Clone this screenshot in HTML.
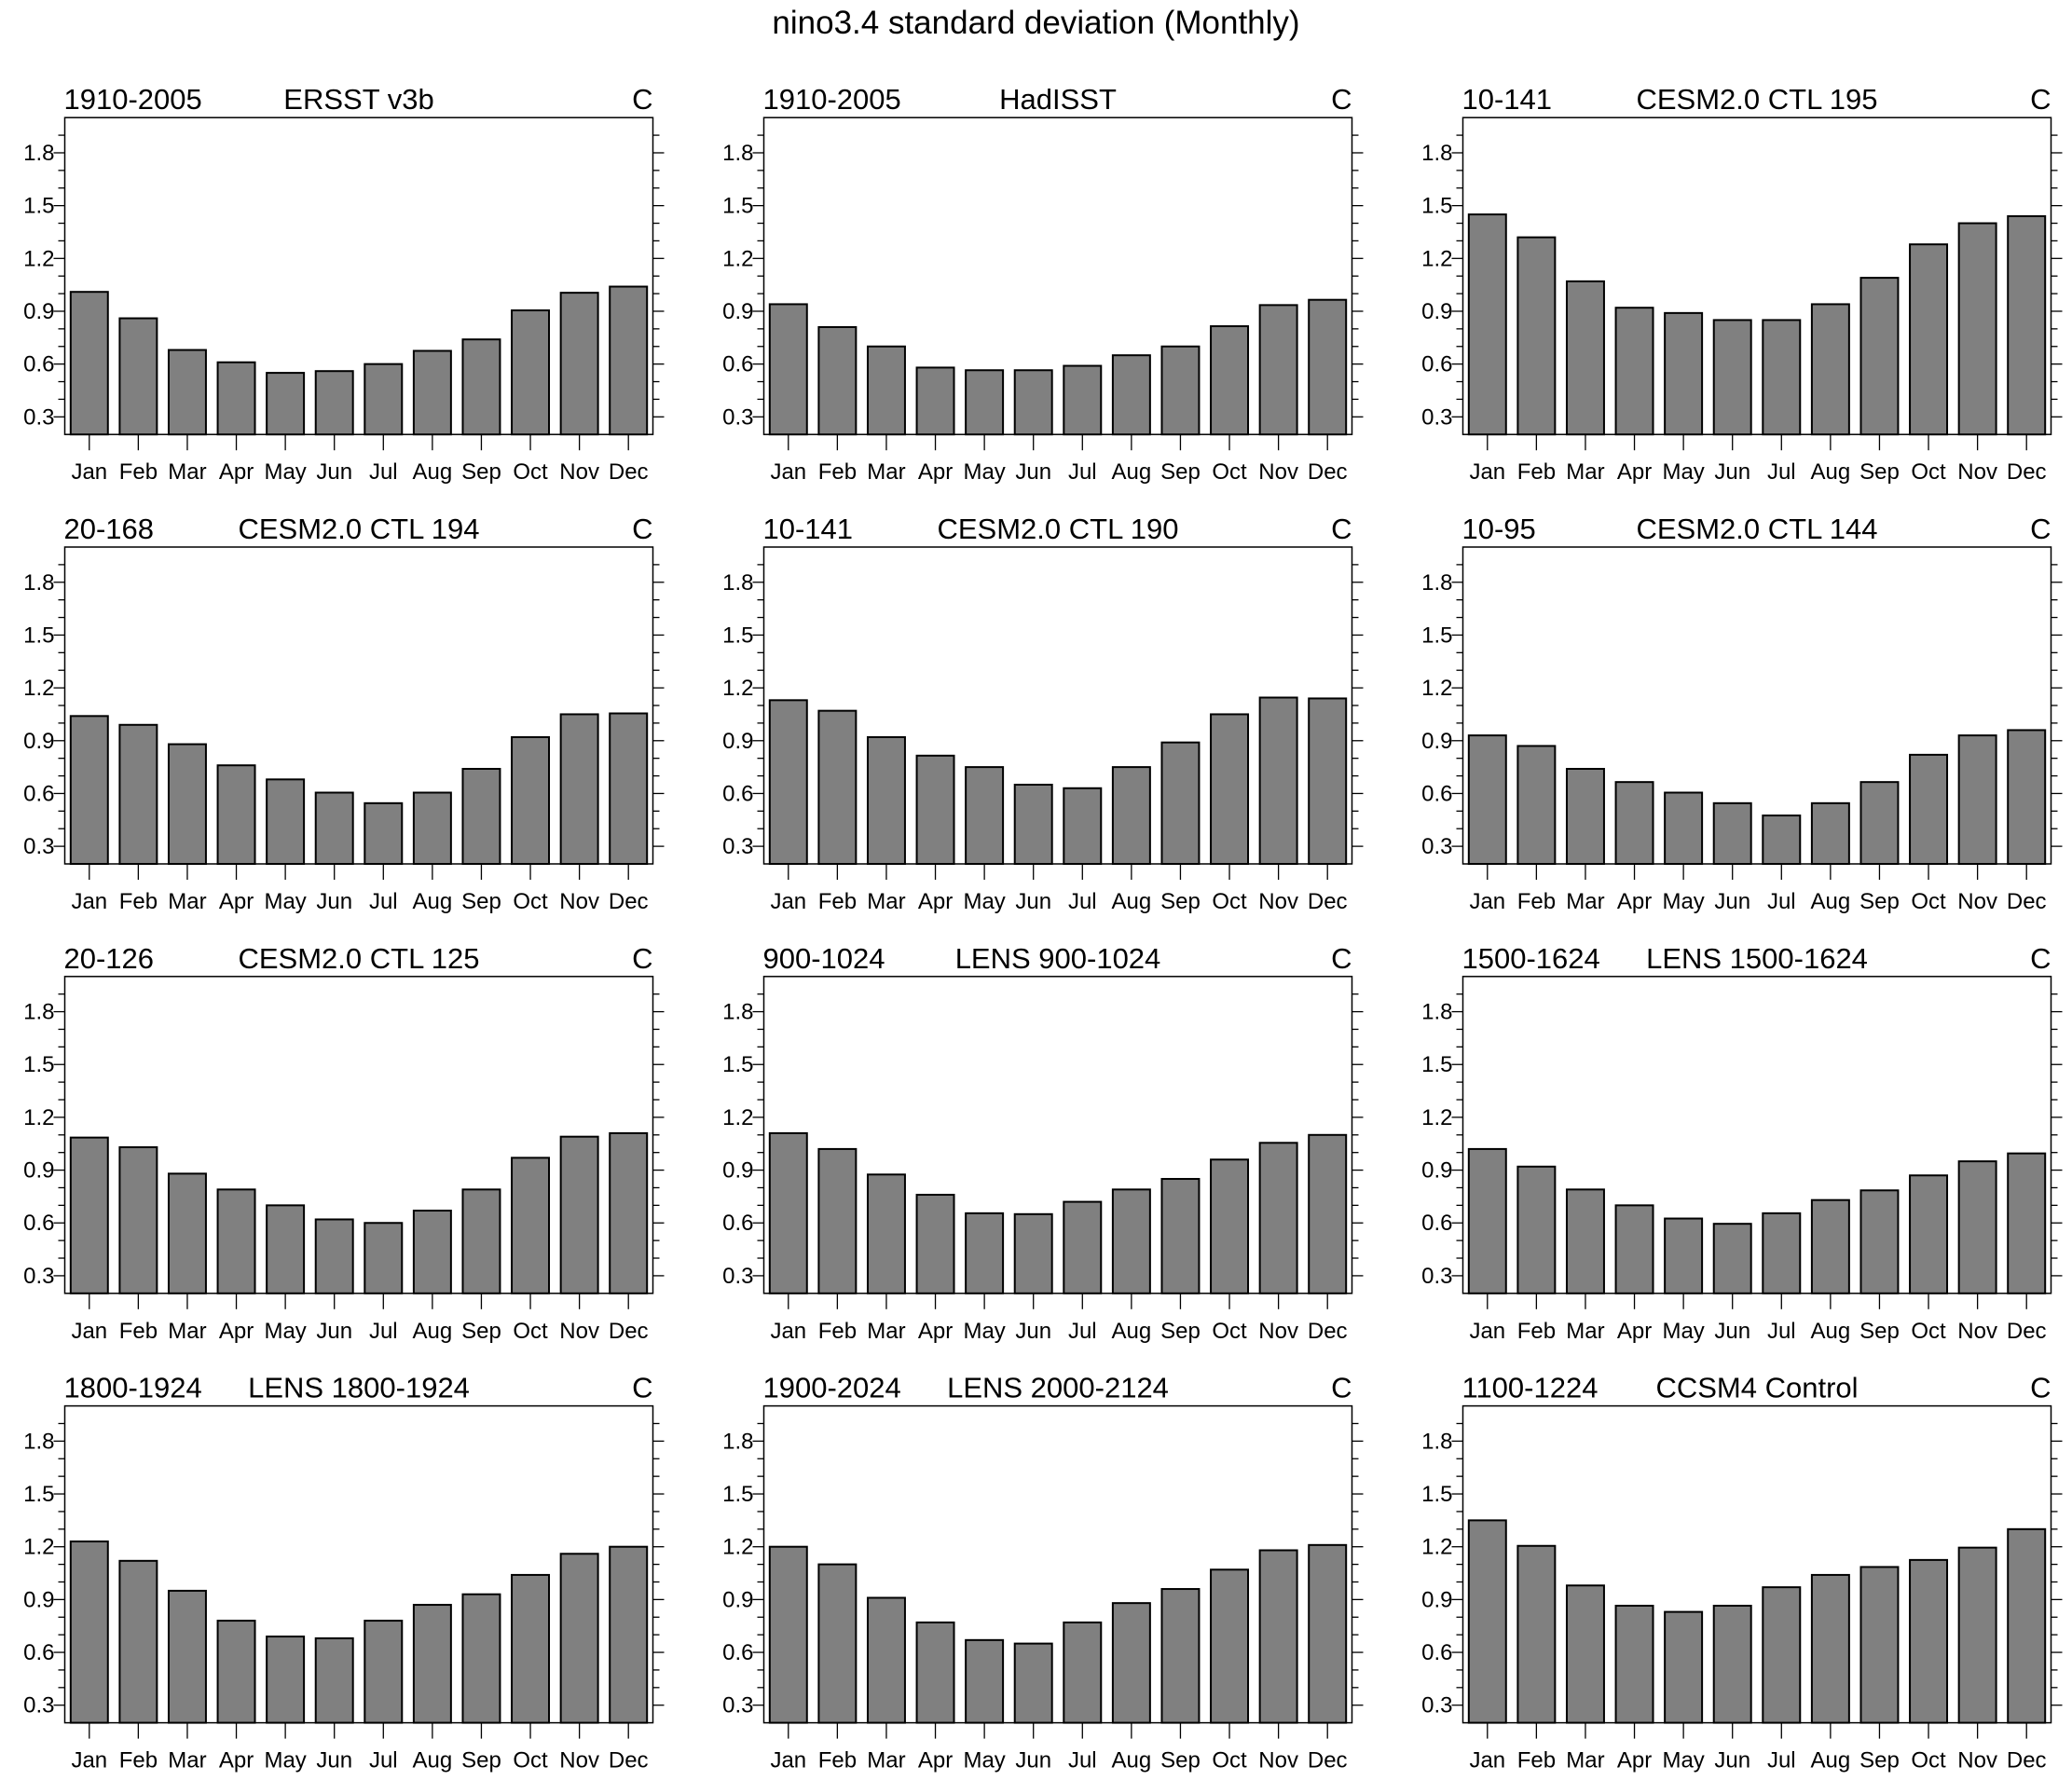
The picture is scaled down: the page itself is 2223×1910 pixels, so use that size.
<!DOCTYPE html>
<html><head><meta charset="utf-8"><style>
html,body{margin:0;padding:0;background:#fff;}
svg{display:block;font-family:"Liberation Sans",sans-serif;}
</style></head><body>
<svg id="chart" width="2223" height="1910" viewBox="0 0 2223 1910" xmlns="http://www.w3.org/2000/svg">
<rect width="2223" height="1910" fill="#fff"/>
<text x="1111.5" y="36" font-size="35" text-anchor="middle">nino3.4 standard deviation (Monthly)</text>
</svg>
<script>
const months = ["Jan","Feb","Mar","Apr","May","Jun","Jul","Aug","Sep","Oct","Nov","Dec"];
const yTicks = [0.3,0.6,0.9,1.2,1.5,1.8];
const yTickLabels = ["0.3","0.6","0.9","1.2","1.5","1.8"];
const leftTitles = ["1910-2005","1910-2005","10-141","20-168","10-141","10-95","20-126","900-1024","1500-1624","1800-1924","1900-2024","1100-1224"];
const centerTitles = ["ERSST v3b","HadISST","CESM2.0 CTL 195","CESM2.0 CTL 194","CESM2.0 CTL 190","CESM2.0 CTL 144","CESM2.0 CTL 125","LENS 900-1024","LENS 1500-1624","LENS 1800-1924","LENS 2000-2124","CCSM4 Control"];
const s1 = [1.01,0.86,0.68,0.61,0.55,0.56,0.60,0.675,0.74,0.905,1.005,1.04];
const s2 = [0.94,0.81,0.70,0.58,0.565,0.565,0.59,0.65,0.70,0.815,0.935,0.965];
const s3 = [1.45,1.32,1.07,0.92,0.89,0.85,0.85,0.94,1.09,1.28,1.40,1.44];
const s4 = [1.04,0.99,0.88,0.76,0.68,0.605,0.545,0.605,0.74,0.92,1.05,1.055];
const s5 = [1.13,1.07,0.92,0.815,0.75,0.65,0.63,0.75,0.89,1.05,1.145,1.14];
const s6 = [0.93,0.87,0.74,0.665,0.605,0.545,0.475,0.545,0.665,0.82,0.93,0.96];
const s7 = [1.085,1.03,0.88,0.79,0.70,0.62,0.60,0.67,0.79,0.97,1.09,1.11];
const s8 = [1.11,1.02,0.875,0.76,0.655,0.65,0.72,0.79,0.85,0.96,1.055,1.10];
const s9 = [1.02,0.92,0.79,0.70,0.625,0.595,0.655,0.73,0.785,0.87,0.95,0.995];
const s10 = [1.23,1.12,0.95,0.78,0.69,0.68,0.78,0.87,0.93,1.04,1.16,1.20];
const s11 = [1.20,1.10,0.91,0.77,0.67,0.65,0.77,0.88,0.96,1.07,1.18,1.21];
const s12 = [1.35,1.205,0.98,0.865,0.83,0.865,0.97,1.04,1.085,1.125,1.195,1.30];
const series = [s1,s2,s3,s4,s5,s6,s7,s8,s9,s10,s11,s12];
const yMin = 0.2, yMax = 2.0;

const NS = "http://www.w3.org/2000/svg";
const svg = document.getElementById("chart");
function mk(tag, attrs, parent){
  const e = document.createElementNS(NS, tag);
  for (const k in attrs) e.setAttribute(k, attrs[k]);
  parent.appendChild(e);
  return e;
}
const PW = 631, PH = 340;
const colX = [69.5, 819.5, 1569.5];
const rowY = [126.2, 587, 1047.8, 1508.6];

series.forEach((vals, i) => {
  const px = colX[i % 3], py = rowY[Math.floor(i / 3)];
  const g = mk("g", {}, svg);
  
  
  const ys = v => py + PH - (v - yMin) / (yMax - yMin) * PH;
  const slot = PW / months.length;
  const xs = k => px + slot * (k + 0.5);
  vals.forEach((v, k) => {
    const bw = slot * 0.76;
    const r = mk("rect", {x: xs(k) - bw / 2, y: ys(v), width: bw, height: py + PH - ys(v), fill: "#808080", stroke: "#000", "stroke-width": 2}, g);
    
    
  });
  const fr = mk("rect", {x: px, y: py, width: PW, height: PH, fill: "none", stroke: "#000", "stroke-width": 1.5}, g);
  
  
  for (let t = 3; t <= 19; t++) {
    const v = t / 10;
    const major = (t % 3 === 0);
    const len = major ? 12 : 7;
    mk("line", {x1: px - len, x2: px, y1: ys(v), y2: ys(v), stroke: "#000", "stroke-width": 1.3}, g);
    mk("line", {x1: px + PW, x2: px + PW + len, y1: ys(v), y2: ys(v), stroke: "#000", "stroke-width": 1.3}, g);
  }
  yTicks.forEach((v, k) => {
    const t = mk("text", {x: px - 11, y: ys(v) + 8, "font-size": 24, "text-anchor": "end"}, g);
    t.textContent = yTickLabels[k];
    
    
  });
  months.forEach((m, k) => {
    mk("line", {x1: xs(k), x2: xs(k), y1: py + PH, y2: py + PH + 17, stroke: "#000", "stroke-width": 1.3}, g);
    const t = mk("text", {x: xs(k), y: py + PH + 48, "font-size": 24, "text-anchor": "middle"}, g);
    t.textContent = m;
    
    
  });
  const lt = mk("text", {x: px - 1, y: py - 9, "font-size": 31}, g);
  lt.textContent = leftTitles[i];
  
  
  const ct = mk("text", {x: px + PW / 2, y: py - 9, "font-size": 31, "text-anchor": "middle"}, g);
  ct.textContent = centerTitles[i];
  
  
  const rt = mk("text", {x: px + PW, y: py - 9, "font-size": 31, "text-anchor": "end"}, g);
  rt.textContent = "C";
  
  
});
</script>
</body></html>
